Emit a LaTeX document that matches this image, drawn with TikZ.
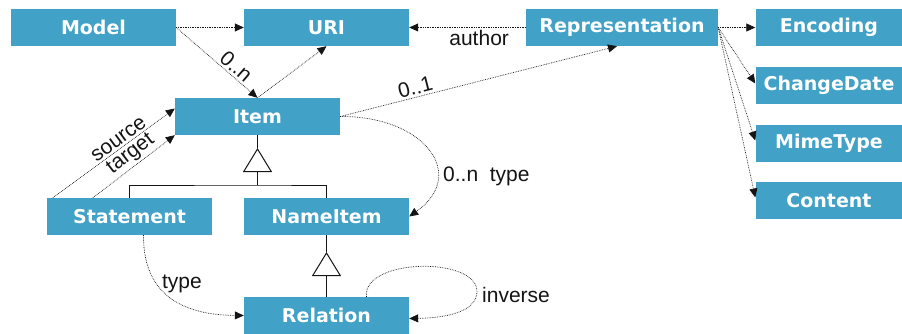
\documentclass[tikz,border=0pt]{standalone}
\usepackage{fontspec}
\setmainfont{Liberation Sans}
\newfontfamily\clsfont{DejaVu Sans}
\usetikzlibrary{arrows.meta,calc}
\definecolor{boxblue}{RGB}{65,161,198}
\definecolor{ink}{RGB}{20,20,20}
\tikzset{
  cls/.style={fill=boxblue, text=white, inner sep=0pt, minimum height=37pt,
              minimum width=165pt, font=\clsfont\fontsize{19}{22}\selectfont\bfseries},
  assoc/.style={-{Triangle[length=9pt,width=8pt]}, densely dotted, line width=0.7pt, ink},
  lbl/.style={font=\fontsize{21}{24}\selectfont, text=ink, inner sep=2pt},
  inherit/.style={line width=1pt, ink},
  gen/.style={-{Triangle[open, length=24pt, width=29pt]}, line width=1pt, ink},
}
\begin{document}
\begin{tikzpicture}[x=1pt, y=-1pt]
  \useasboundingbox (0,0) rectangle (902,334);
  % classes
  \node[cls] (model) at (93.5,27.5) {Model};
  \node[cls] (uri) at (326.5,27.5) {URI};
  \node[cls, minimum width=192pt] (repr) at (622,27.5) {Representation};
  \node[cls, minimum width=147pt] (enc) at (829,27.5) {Encoding};
  \node[cls, minimum width=147pt] (chg) at (829,85.5) {ChangeDate};
  \node[cls, minimum width=147pt] (mime) at (829,143.5) {MimeType};
  \node[cls, minimum width=147pt] (cont) at (829,200.5) {Content};
  \node[cls] (item) at (257.5,116.5) {Item};
  \node[cls] (stmt) at (129.5,216.5) {Statement};
  \node[cls] (name) at (326.5,216.5) {NameItem};
  \node[cls] (rel) at (326.5,315.5) {Relation};
  % generalisation
  \coordinate (t1) at (257.5,148);
  \coordinate (j1) at (257.5,185);
  \coordinate (t2) at (326.5,252);
  \draw[inherit] (item.south) -- (t1);
  \draw[gen] (j1) -- (t1);
  \draw[inherit] (stmt.north) |- (j1) -| (name.north);
  \draw[inherit] (name.south) -- (t2);
  \draw[gen] (rel.north) -- (t2);
  % associations
  \draw[assoc] (model.east) -- (uri.west);
  \draw[assoc] (model.east) -- node[lbl, sloped, above, pos=0.66]{0..n} (item.north);
  \draw[assoc] (item.north) -- (uri.south);
  \draw[assoc] (repr.west) -- node[lbl, below, pos=0.4]{author} (uri.east);
  \draw[assoc] (item.east) -- node[lbl, sloped, above, pos=0.28]{0..1} ([xshift=-5pt]repr.south);
  \draw[assoc] (item.east) .. controls (425,116) and (468,175) .. (name.east);
  \node[lbl, anchor=west] (ntype) at (441,176) {0..n~~type};
  \draw[assoc] (repr.east) -- (enc.west);
  \draw[assoc] (repr.east) -- ([yshift=2pt]chg.west);
  \draw[assoc] (repr.east) -- ([yshift=3pt]mime.west);
  \draw[assoc] (repr.east) -- ([yshift=3pt]cont.west);
  \draw[assoc] ([xshift=6pt]stmt.north west) -- node[lbl, sloped, above, pos=0.58]{source} ([yshift=8pt]item.west);
  \draw[assoc] ([xshift=46pt]stmt.north west) -- node[lbl, sloped, above, pos=0.55]{target} (item.south west);
  \draw[assoc] ([xshift=14pt]stmt.south) .. controls (143,300) and (190,315) .. (rel.west);
  \node[lbl] (stype) at (182,284) {type};
  \draw[assoc] ([xshift=40pt]rel.north) .. controls (362,258) and (478,256) .. (477,292)
               .. controls (476,314) and (440,318) .. ([yshift=-3pt]rel.east);
  \node[lbl, anchor=west] (inv) at (480,295) {inverse};
\end{tikzpicture}
\end{document}
